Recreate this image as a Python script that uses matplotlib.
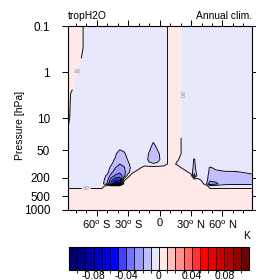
import numpy as np
import matplotlib
matplotlib.use("Agg")
import matplotlib.pyplot as plt
from matplotlib.colors import ListedColormap, BoundaryNorm

plt.rcParams['font.family'] = ['Liberation Sans', 'DejaVu Sans']
plt.rcParams['axes.unicode_minus'] = False
plt.rcParams['mathtext.fontset'] = 'custom'
plt.rcParams['mathtext.rm'] = 'Liberation Sans'

# latitude of each column, pressure (hPa) of each row
lats = [-88, -82, -76, -70, -62, -55, -50, -46, -42, -38, -34, -30, -26, -20, -14, -10,
        -6, -2, 4, 11, 17, 24, 30, 33, 36, 40, 44, 48, 54, 62, 72, 88]
pressure = [0.1, 0.3, 1, 3, 10, 25, 40, 60, 80, 100, 120, 150, 180, 220, 270, 300, 380, 1000]

# field values, in units of 0.001 K, one list per latitude (top -> bottom)
cols = [
    [5, 5, 5, 5, 3, -2, -5, -5, -5, -5, -5, -5, -5, -5, -5, -5, 5, 5],          # -88
    [5, 5, 5, -5, -5, -5, -5, -5, -5, -5, -5, -5, -5, -5, -5, -5, 5, 5],        # -82
    [5, 5, -5, -5, -5, -5, -5, -5, -5, -5, -5, -5, -5, -5, -5, -5, 5, 5],       # -76
    [-5, -5, -5, -5, -5, -5, -5, -5, -5, -5, -5, -5, -5, -5, -5, -5, 5, 5],     # -70
    [-5, -5, -5, -5, -5, -5, -5, -5, -5, -5, -5, -5, -5, -5, -5, -5, 5, 5],     # -62
    [-5, -5, -5, -5, -5, -5, -5, -5, -5, -5, -5, -5, -5, -5, -5, -5, 5, 5],     # -55
    [-5, -5, -5, -5, -5, -5, -5, -5, -5, -5, -5, -7, -12, -16, -22, 5, 5, 5],   # -50
    [-5, -5, -5, -5, -5, -5, -5, -6, -8, -9, -13, -18, -25, -36, -45, 5, 5, 5], # -46
    [-5, -5, -5, -5, -5, -5, -6, -9, -11, -15, -20, -25, -32, -50, -68, 5, 5, 5],  # -42
    [-5, -5, -5, -5, -5, -5, -6, -15, -17, -20, -23, -28, -36, -48, -60, 5, 5, 5], # -38
    [-5, -5, -5, -5, -5, -5, -5, -12, -15, -18, -21, -23, -25, -2, 5, 5, 5, 5], # -34
    [-5, -5, -5, -5, -5, -5, -5, -6, -9, -12, -14, -14, -3, 5, 5, 5, 5, 5],     # -30
    [-5, -5, -5, -5, -5, -5, -5, -5, -5, -5, -6, -2, 5, 5, 5, 5, 5, 5],         # -26
    [-5, -5, -5, -5, -5, -5, -5, -5, -5, -5, -3, 5, 5, 5, 5, 5, 5, 5],          # -20
    [-5, -5, -5, -5, -5, -5, -5, -5, -6, -5, 5, 5, 5, 5, 5, 5, 5, 5],           # -14
    [-5, -5, -5, -5, -5, -5, -7, -11, -12, -8, 5, 5, 5, 5, 5, 5, 5, 5],         # -10
    [-5, -5, -5, -5, -5, -7, -12, -15, -16, -9, 5, 5, 5, 5, 5, 5, 5, 5],        # -6
    [-5, -5, -5, -5, -5, -5, -8, -12, -13, -8, 5, 5, 5, 5, 5, 5, 5, 5],         # -2
    [-5, -5, -5, -5, -5, -5, -5, -5, -5, -5, 5, 5, 5, 5, 5, 5, 5, 5],           # 4
    [5, 5, 5, 5, 5, 5, 5, 5, 5, 5, 5, 5, 5, 5, 5, 5, 5, 5],                     # 11
    [5, 5, 5, 5, 5, 5, 5, 5, 1, -2, 5, 5, 5, 5, 5, 5, 5, 5],                    # 17
    [-5, -5, -5, -5, -5, -5, -5, -5, -5, -5, -5, 5, 5, 5, 5, 5, 5, 5],          # 24
    [-5, -5, -5, -5, -5, -5, -5, -5, -5, -5, -5, -5, 5, 5, 5, 5, 5, 5],         # 30
    [-5, -5, -5, -5, -5, -5, -5, -5, -11, -12, -13, -16, -25, 5, 5, 5, 5, 5],   # 33
    [-5, -5, -5, -5, -5, -5, -5, -5, -5, -5, -5, -6, -8, 5, 5, 5, 5, 5],        # 36
    [-5, -5, -5, -5, -5, -5, -5, -5, -5, -5, -5, -5, -5, -2, 5, 5, 5, 5],       # 40
    [-5, -5, -5, -5, -5, -5, -5, -5, -5, -5, -5, -5, -5, -5, -5, 5, 5, 5],      # 44
    [-5, -5, -5, -5, -5, -5, -5, -5, -5, -5, -11, -12, -14, -16, -28, -5, 5, 5],# 48
    [-5, -5, -5, -5, -5, -5, -5, -5, -5, -5, -8, -12, -14, -17, -22, -5, 5, 5], # 54
    [-5, -5, -5, -5, -5, -5, -5, -5, -5, -5, -6, -11, -13, -14, -13, -5, 5, 5], # 62
    [-5, -5, -5, -5, -5, -5, -5, -5, -5, -5, -5, -11, -13, -13, -12, -5, 5, 5], # 72
    [-5, -5, -5, -5, -5, -5, -5, -5, -5, -5, -5, -8, -12, -13, -12, -5, 5, 5],  # 88
]
field = np.array(cols).T * 0.001

levels = np.round(np.arange(-0.1, 0.1001, 0.01), 2)
xticks = [-60, -30, 0, 30, 60]
xlabels = [r'60$^{\rm o}$ S', r'30$^{\rm o}$ S', '0', r'30$^{\rm o}$ N', r'60$^{\rm o}$ N']
yticks = [0.1, 1, 10, 50, 200, 500, 1000]
ylabels = ['0.1', '1', '10', '50', '200', '500', '1000']
cbticks = [-0.08, -0.04, 0, 0.04, 0.08]

colors = [
    (0.0, 0.0, 0.45), (0.0, 0.0, 0.53), (0.0, 0.0, 0.62), (0.0, 0.0, 0.72),
    (0.0, 0.0, 0.85), (0.0, 0.0, 1.0), (0.25, 0.25, 1.0), (0.45, 0.45, 1.0),
    (0.6, 0.6, 1.0), (0.75, 0.75, 1.0), (0.91, 0.91, 0.99),
    (1.0, 0.91, 0.91), (1.0, 0.75, 0.75), (1.0, 0.57, 0.57), (1.0, 0.4, 0.4),
    (1.0, 0.2, 0.2), (1.0, 0.0, 0.0), (0.9, 0.0, 0.0), (0.8, 0.0, 0.0),
    (0.7, 0.0, 0.0), (0.58, 0.0, 0.0), (0.45, 0.0, 0.0),
]
cmap = ListedColormap(colors[1:-1])
cmap.set_under(colors[0])
cmap.set_over(colors[-1])
norm = BoundaryNorm(levels, cmap.N)

fig = plt.figure(figsize=(2.56, 2.80), dpi=100)
ax = fig.add_axes([0.2637, 0.25, 0.7195, 0.657])

cf = ax.contourf(lats, pressure, field, levels=levels, cmap=cmap, norm=norm, extend='both')
cs = ax.contour(lats, pressure, field, levels=levels, colors='k', linewidths=0.65,
                negative_linestyles='solid')
ax.clabel(cs, levels=[0.0], fmt=lambda v: '.00', fontsize=3.5, colors='0.5', inline=True, inline_spacing=1)

ax.set_yscale('log')
ax.set_ylim(1000, 0.1)
ax.set_xlim(-87.86, 87.86)
ax.set_yticks(yticks)
ax.set_yticklabels(ylabels)
ax.yaxis.set_minor_locator(matplotlib.ticker.NullLocator())
ax.set_xticks(xticks)
ax.set_xticklabels(xlabels)
ax.set_xticks(np.arange(-80, 81, 10), minor=True)
ax.tick_params(which='both', direction='out', top=True, right=True, labelsize=8.5, width=0.7)
ax.tick_params(axis='x', labelsize=8)
ax.tick_params(which='major', length=4.5)
ax.tick_params(which='minor', length=2.5)
ax.tick_params(axis='y', pad=8)
ax.tick_params(axis='x', pad=1.5)
for s in ax.spines.values():
    s.set_linewidth(0.8)

ax.text(0.0, 1.03, 'tropH2O', transform=ax.transAxes, fontsize=7.4, ha='left', va='bottom')
ax.text(1.0, 1.03, 'Annual clim.', transform=ax.transAxes, fontsize=7.4, ha='right', va='bottom')
fig.text(20 / 256, 1 - 125 / 280, 'Pressure [hPa]', rotation=90, fontsize=7.5, ha='center', va='center')
fig.text(250 / 256, 1 - 236 / 280, 'K', fontsize=7.5, ha='right', va='center')

cax = fig.add_axes([0.2695, 0.0357, 0.703, 0.082])
cb = fig.colorbar(cf, cax=cax, orientation='horizontal', extendrect=True, extendfrac=0.05,
                  drawedges=True, ticks=cbticks)
cb.ax.set_xticklabels(['-0.08', '-0.04', '0', '0.04', '0.08'])
cb.ax.tick_params(length=0, labelsize=7.5, pad=1)
cb.outline.set_linewidth(0.8)
cb.dividers.set_linewidth(0.6)

fig.savefig('out.png', dpi=100)
